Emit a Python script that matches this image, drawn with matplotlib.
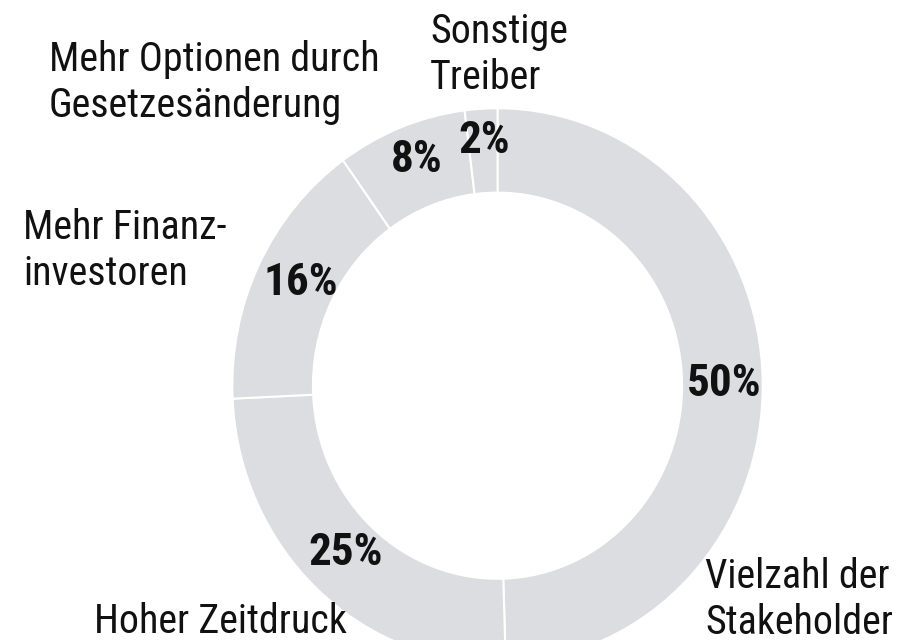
import matplotlib
matplotlib.use("Agg")
import matplotlib.pyplot as plt

# donut data, clockwise from 12 o'clock
categories = ["Vielzahl der\nStakeholder", "Hoher Zeitdruck", "Mehr Finanz-\ninvestoren",
              "Mehr Optionen durch\nGesetzesänderung", "Sonstige\nTreiber"]
values = [50, 25, 16, 8, 2]

# label placement in pixels (left x, top y) and percent labels (center x, top y)
cat_pos = [(705, 557), (94, 602), (23, 208), (49, 40), (430, 12)]
pct_pos = [(724, 363), (346, 532), (301, 262), (417, 139), (484, 120)]

W, H = 913, 640
fig = plt.figure(figsize=(W / 100, H / 100), dpi=100)
ax = fig.add_axes([0, 0, 1, 1])

ax.pie(values, startangle=90, counterclock=False, colors=["#dcdde1"] * len(values),
       wedgeprops=dict(width=0.304, edgecolor="white", linewidth=1.5))
ax.set_aspect("auto")
ax.set_xlim(-1.876, 1.5667)
ax.set_ylim(-0.9167, 1.3904)
ax.axis("off")

font = ["Roboto Condensed", "Archivo Narrow", "PT Sans Narrow", "DejaVu Sans"]
for lab, (x, y) in zip(categories, cat_pos):
    fig.text(x / W, 1 - y / H, lab, ha="left", va="top", fontsize=28.8,
             family=font, linespacing=1.22, color="#111111")

for v, (x, y) in zip(values, pct_pos):
    fig.text(x / W, 1 - y / H, f"{v}%", ha="center", va="top", fontsize=32.5,
             family=font, fontweight=600, color="#111111")

fig.savefig("out.png", dpi=100)
